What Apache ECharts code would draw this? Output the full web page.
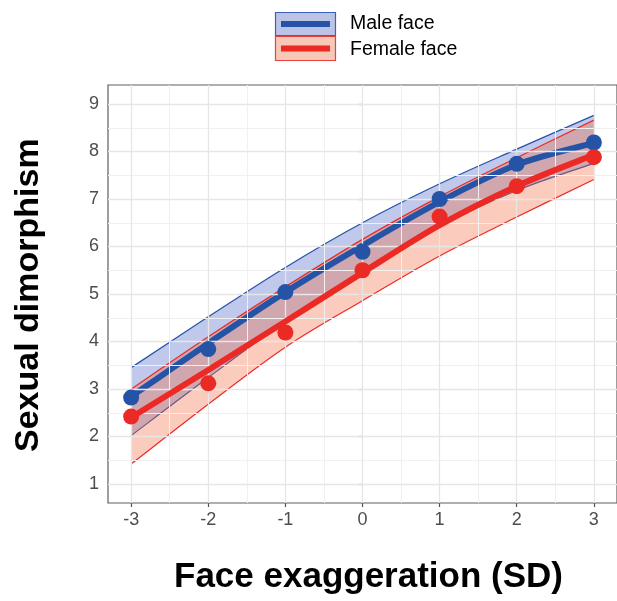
<!DOCTYPE html>
<html>
<head>
<meta charset="utf-8">
<script src="https://cdn.jsdelivr.net/npm/echarts@6/dist/echarts.min.js"></script>
<style>
html,body{margin:0;padding:0;background:#fff;}
#chart{width:617px;height:601px;}
</style>
</head>
<body>
<div id="chart"></div>
<script>
// ---- data ----
const xValues = [-3, -2, -1, 0, 1, 2, 3];
const maleMean   = [2.82, 3.84, 5.04, 5.89, 7.00, 7.74, 8.19];
const femaleMean = [2.42, 3.12, 4.19, 5.50, 6.63, 7.27, 7.88];
const maleFit    = [2.84, 3.96, 5.04, 6.02, 6.94, 7.72, 8.18];
const maleLower  = [2.02, 3.24, 4.42, 5.44, 6.42, 7.18, 7.75];
const maleUpper  = [3.45, 4.52, 5.56, 6.50, 7.32, 8.05, 8.76];
const femaleFit  = [2.40, 3.40, 4.42, 5.45, 6.45, 7.27, 7.93];
const femaleLower= [1.42, 2.68, 3.88, 4.86, 5.80, 6.62, 7.41];
const femaleUpper= [3.00, 4.10, 5.15, 6.15, 7.05, 7.87, 8.66];
const xTicks = [-3, -2, -1, 0, 1, 2, 3];
const yTicks = [1, 2, 3, 4, 5, 6, 7, 8, 9];
const xMinor = [-2.5, -1.5, -0.5, 0.5, 1.5, 2.5];
const yMinor = [1.5, 2.5, 3.5, 4.5, 5.5, 6.5, 7.5, 8.5];
const seriesNames = ['Male face', 'Female face'];

// ---- styles ----
const BLUE = '#2553a6';
const RED = '#ec2a25';
const BLUE_FILL = 'rgba(48,72,190,0.30)';
const RED_FILL = 'rgba(242,100,55,0.33)';
const FONT = '"Liberation Sans", Arial, sans-serif';

const rows = (...cols) => xValues.map((x, i) => [x].concat(cols.map(c => c[i])));

// Catmull-Rom style bezier through pixel points (rendering of a smooth curve)
function curvePath(pts, start) {
  let d = start ? 'M' + pts[0][0] + ' ' + pts[0][1] : 'L' + pts[0][0] + ' ' + pts[0][1];
  const n = pts.length;
  for (let i = 0; i < n - 1; i++) {
    const p0 = pts[Math.max(i - 1, 0)], p1 = pts[i], p2 = pts[i + 1], p3 = pts[Math.min(i + 2, n - 1)];
    const c1x = p1[0] + (p2[0] - p0[0]) / 6, c1y = p1[1] + (p2[1] - p0[1]) / 6;
    const c2x = p2[0] - (p3[0] - p1[0]) / 6, c2y = p2[1] - (p3[1] - p1[1]) / 6;
    d += ' C' + c1x + ' ' + c1y + ' ' + c2x + ' ' + c2y + ' ' + p2[0] + ' ' + p2[1];
  }
  return d;
}

function ribbonSeries(name, lower, upper, color, fill, z) {
  const data = rows(lower, upper);
  return {
    type: 'custom', name: name, data: data, z: z, silent: true,
    encode: {x: 0, y: [1, 2]},
    renderItem: function (params, api) {
      if (params.dataIndex !== 0) return null;
      const lo = data.map(r => api.coord([r[0], r[1]]));
      const hi = data.map(r => api.coord([r[0], r[2]]));
      const loRev = lo.slice().reverse();
      const fillPath = curvePath(hi, true) + ' ' + curvePath(loRev, false) + ' Z';
      return {
        type: 'group',
        children: [
          {type: 'path', shape: {pathData: fillPath}, style: {fill: fill, stroke: null}},
          {type: 'path', shape: {pathData: curvePath(hi, true)}, style: {fill: null, stroke: color, lineWidth: 1.2}},
          {type: 'path', shape: {pathData: curvePath(lo, true)}, style: {fill: null, stroke: color, lineWidth: 1.2}}
        ]
      };
    }
  };
}

function fitSeries(name, fit, color, z) {
  const data = rows(fit);
  return {
    type: 'custom', name: name, data: data, z: z, silent: true,
    encode: {x: 0, y: 1},
    renderItem: function (params, api) {
      if (params.dataIndex !== 0) return null;
      const pts = data.map(r => api.coord([r[0], r[1]]));
      return {type: 'path', shape: {pathData: curvePath(pts, true)}, style: {fill: null, stroke: color, lineWidth: 6, lineCap: 'butt'}};
    }
  };
}

const gridLineData = []
  .concat(xMinor.map(v => ({xAxis: v, lineStyle: {color: '#f0f0f0', width: 1, type: 'solid'}})))
  .concat(yMinor.map(v => ({yAxis: v, lineStyle: {color: '#f0f0f0', width: 1, type: 'solid'}})))
  .concat(xTicks.map(v => ({xAxis: v, lineStyle: {color: '#e6e6e6', width: 1.3, type: 'solid'}})))
  .concat(yTicks.map(v => ({yAxis: v, lineStyle: {color: '#e6e6e6', width: 1.3, type: 'solid'}})));

const chart = echarts.init(document.getElementById('chart'), null, {renderer: 'canvas'});
chart.setOption({
  animation: false,
  backgroundColor: '#ffffff',
  grid: {left: 108, top: 85, width: 520, height: 418, show: true, borderColor: '#5e5e5e', borderWidth: 1.2, backgroundColor: 'transparent'},
  xAxis: {
    type: 'value', min: -3.3, max: 3.3,
    splitLine: {show: false},
    axisLine: {show: false},
    axisTick: {show: true, length: 4, lineStyle: {color: '#555', width: 1.2}, customValues: xTicks},
    axisLabel: {customValues: xTicks, color: '#4d4d4d', fontSize: 18, fontFamily: FONT, margin: 8,
      formatter: v => String(v)}
  },
  yAxis: {
    type: 'value', min: 0.6, max: 9.4,
    splitLine: {show: false},
    axisLine: {show: false},
    axisTick: {show: true, length: 4, lineStyle: {color: '#555', width: 1.2}, customValues: yTicks},
    axisLabel: {customValues: yTicks, color: '#4d4d4d', fontSize: 18, fontFamily: FONT, margin: 9,
      formatter: v => String(v)}
  },
  graphic: [
    {type: 'text', left: 174, top: 560,
      style: {text: 'Face exaggeration (SD)', font: 'bold 35px ' + FONT, fill: '#000'}},
    {type: 'text', x: 12, y: 452, rotation: Math.PI / 2,
      style: {text: 'Sexual dimorphism', font: 'bold 34px ' + FONT, fill: '#000'}},
    {type: 'rect', shape: {x: 275.5, y: 12.5, width: 60, height: 23}, style: {fill: '#bcc3e7', stroke: '#3a62b8', lineWidth: 1.2}},
    {type: 'line', shape: {x1: 281, y1: 24, x2: 330, y2: 24}, style: {stroke: BLUE, lineWidth: 6}},
    {type: 'rect', shape: {x: 275.5, y: 36.5, width: 60, height: 24}, style: {fill: '#f8c7b5', stroke: '#e8403a', lineWidth: 1.2}},
    {type: 'line', shape: {x1: 281, y1: 48.5, x2: 330, y2: 48.5}, style: {stroke: RED, lineWidth: 6}},
    {type: 'text', x: 350, y: 14, style: {text: seriesNames[0], font: '19.5px ' + FONT, fill: '#000'}},
    {type: 'text', x: 350, y: 40, style: {text: seriesNames[1], font: '19.5px ' + FONT, fill: '#000'}}
  ],
  series: [
    {type: 'line', name: 'grid', data: [], z: 0, silent: true,
      markLine: {silent: true, symbol: 'none', label: {show: false}, animation: false, data: gridLineData}},
    ribbonSeries('maleBand', maleLower, maleUpper, BLUE, BLUE_FILL, 2),
    ribbonSeries('femaleBand', femaleLower, femaleUpper, RED, RED_FILL, 3),
    fitSeries(seriesNames[0], maleFit, BLUE, 4),
    fitSeries(seriesNames[1], femaleFit, RED, 5),
    {type: 'scatter', name: 'maleMean', data: rows(maleMean), symbol: 'circle', symbolSize: 16, itemStyle: {color: BLUE, opacity: 1}, z: 6},
    {type: 'scatter', name: 'femaleMean', data: rows(femaleMean), symbol: 'circle', symbolSize: 16, itemStyle: {color: RED, opacity: 1}, z: 7}
  ]
});
</script>
</body>
</html>
